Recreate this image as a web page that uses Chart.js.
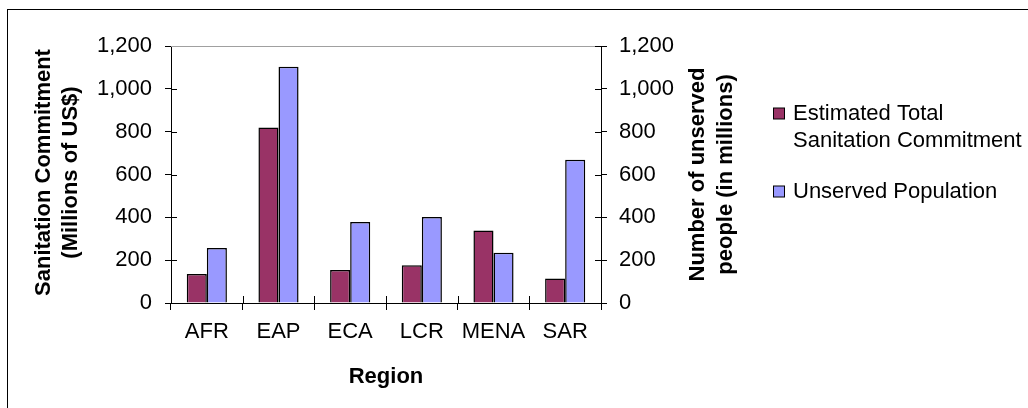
<!DOCTYPE html>
<html>
<head>
<meta charset="utf-8">
<script src="https://cdn.jsdelivr.net/npm/chart.js@4.4.1/dist/chart.umd.min.js"></script>
<style>
  html, body { margin: 0; padding: 0; background: #fff; }
  #wrap { width: 1028px; height: 408px; position: relative; }
</style>
</head>
<body>
<div id="wrap"><canvas id="c" width="1028" height="408"></canvas></div>
<script>
// Regions and the two series (commitment in millions of US$, unserved people in millions)
const regions = ['AFR', 'EAP', 'ECA', 'LCR', 'MENA', 'SAR'];
const commitment = [135, 820, 154, 176, 338, 114];
const unserved = [257, 1103, 378, 402, 235, 669];
const commitmentLabel = ['Estimated Total', 'Sanitation Commitment'];
const unservedLabel = ['Unserved Population'];
const leftTitle = ['Sanitation Commitment', '(Millions of US$)'];
const rightTitle = ['Number of unserved', 'people (in millions)'];
const xTitle = 'Region';
const yMin = 0, yMax = 1200, yStep = 200;

const FONT = '"Liberation Sans", Arial, sans-serif';
const fmt = v => Number(v).toLocaleString('en-US');

// Frame, inner tick halves, plot top edge, axis titles and legend
const decorations = {
  id: 'decorations',
  beforeDraw(chart) {
    const ctx = chart.ctx;
    ctx.save();
    ctx.fillStyle = '#fff';
    ctx.fillRect(0, 0, chart.width, chart.height);
    ctx.strokeStyle = '#000';
    ctx.lineWidth = 1;
    ctx.strokeRect(7.5, 9.5, chart.width + 10, chart.height + 10);
    ctx.restore();
  },
  afterDraw(chart) {
    const ctx = chart.ctx;
    const a = chart.chartArea;
    const xs = chart.scales.x, yl = chart.scales.y, yr = chart.scales.y2;
    ctx.save();
    // top edge of plot area
    ctx.strokeStyle = '#a0a0a0';
    ctx.lineWidth = 1;
    ctx.beginPath();
    ctx.moveTo(a.left, Math.round(a.top) + 0.5);
    ctx.lineTo(a.right, Math.round(a.top) + 0.5);
    ctx.stroke();

    // tick halves inside the plot
    ctx.strokeStyle = '#000';
    ctx.beginPath();
    yl.ticks.forEach((t, i) => {
      const y = Math.round(yl.getPixelForTick(i)) + 0.5;
      if (i === yl.ticks.length - 1) return;
      ctx.moveTo(a.left, y); ctx.lineTo(a.left + 6, y);
    });
    yr.ticks.forEach((t, i) => {
      const y = Math.round(yr.getPixelForTick(i)) + 0.5;
      ctx.moveTo(a.right, y); ctx.lineTo(a.right - 6, y);
    });
    const n = xs.ticks.length;
    const step = (a.right - a.left) / n;
    for (let i = 0; i <= n; i++) {
      const x = Math.round(xs.getPixelForValue(0) - step / 2 + i * step) + 0.5;
      ctx.moveTo(x, a.bottom); ctx.lineTo(x, a.bottom - 7);
    }
    ctx.stroke();

    // axis titles
    ctx.fillStyle = '#000';
    ctx.font = 'bold 22px ' + FONT;
    ctx.textAlign = 'center';
    ctx.textBaseline = 'middle';
    const cy = (a.top + a.bottom) / 2;
    const drawRotated = (lines, xs0, y) => {
      lines.forEach((s, i) => {
        ctx.save();
        ctx.translate(xs0[i], y);
        ctx.rotate(-Math.PI / 2);
        ctx.fillText(s, 0, 0);
        ctx.restore();
      });
    };
    drawRotated(leftTitle, [44, 71], cy - 2);
    drawRotated(rightTitle, [698, 726], cy);
    ctx.fillText(xTitle, (a.left + a.right) / 2, 377);

    // legend
    ctx.font = '22px ' + FONT;
    ctx.textAlign = 'left';
    const items = [
      { ds: chart.data.datasets[0], lines: commitmentLabel, y: 114 },
      { ds: chart.data.datasets[1], lines: unservedLabel, y: 192 }
    ];
    items.forEach(it => {
      ctx.fillStyle = it.ds.backgroundColor;
      ctx.fillRect(773.5, it.y - 6, 11, 11);
      ctx.strokeStyle = '#000';
      ctx.strokeRect(773.5, it.y - 6, 11, 11);
      ctx.fillStyle = '#000';
      it.lines.forEach((s, i) => ctx.fillText(s, 793, it.y + i * 27));
    });
    ctx.restore();
  }
};

const yAxis = (pos, width, pad) => ({
  type: 'linear',
  position: pos,
  min: yMin, max: yMax,
  ticks: { stepSize: yStep, color: '#000', font: { family: FONT, size: 22 }, padding: pad, callback: fmt },
  grid: { display: true, drawOnChartArea: false, drawTicks: true, tickLength: 6, color: '#000' },
  border: { display: true, color: '#000', width: 1 },
  afterFit(scale) { scale.width = width; }
});

new Chart(document.getElementById('c'), {
  type: 'bar',
  data: {
    labels: regions,
    datasets: [
      { label: commitmentLabel.join(' '), data: commitment, yAxisID: 'y',
        backgroundColor: '#993366', borderColor: '#000', borderWidth: 1.5,
        categoryPercentage: 0.56, barPercentage: 1.0 },
      { label: unservedLabel.join(' '), data: unserved, yAxisID: 'y2',
        backgroundColor: '#9999FF', borderColor: '#000', borderWidth: 1.5,
        categoryPercentage: 0.56, barPercentage: 1.0 }
    ]
  },
  options: {
    responsive: false,
    animation: false,
    devicePixelRatio: 1,
    layout: { padding: { top: 46, right: 287, bottom: 0, left: 0 } },
    plugins: { legend: { display: false }, tooltip: { enabled: false } },
    scales: {
      x: {
        type: 'category',
        ticks: { color: '#000', font: { family: FONT, size: 22 }, padding: 9, maxRotation: 0 },
        grid: { display: true, drawOnChartArea: false, drawTicks: true, tickLength: 7, color: '#000', offset: true },
        border: { display: true, color: '#000', width: 1 },
        afterFit(scale) { scale.height = 105; }
      },
      y: yAxis('left', 171, 13),
      y2: yAxis('right', 140, 12)
    }
  },
  plugins: [decorations]
});
</script>
</body>
</html>
